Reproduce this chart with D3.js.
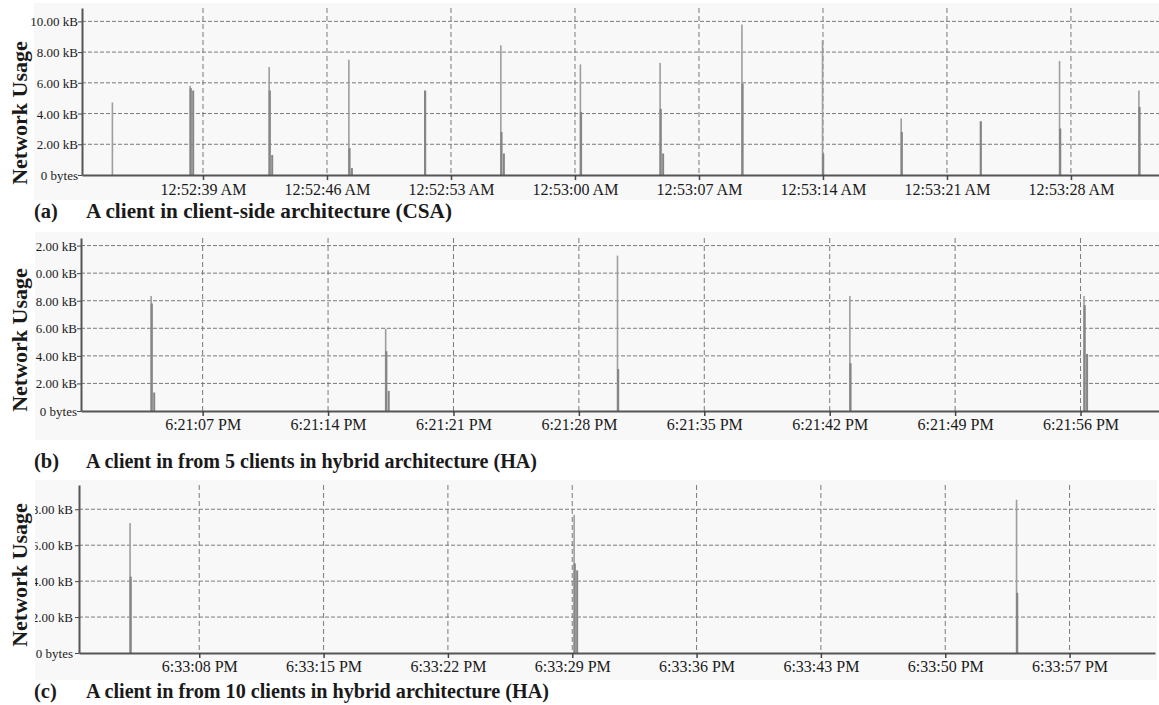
<!DOCTYPE html>
<html>
<head>
<meta charset="utf-8">
<script src="https://cdn.jsdelivr.net/npm/d3@7/dist/d3.min.js"></script>
<style>
  html, body { margin: 0; padding: 0; background: #ffffff; }
  svg { display: block; }
  text { font-family: "Liberation Serif", "Times New Roman", serif; fill: #1a1a1a; }
</style>
</head>
<body>
<svg id="chart" width="1159" height="705"></svg>
<script>
// ---------------- DATA ----------------
// Panel (a): seconds past 12:52:00 AM
const aTickLabels = ["12:52:39 AM","12:52:46 AM","12:52:53 AM","12:53:00 AM","12:53:07 AM","12:53:14 AM","12:53:21 AM","12:53:28 AM"];
const aYTicks = [0, 2, 4, 6, 8, 10];
const aYLabels = ["0 bytes","2.00 kB","4.00 kB","6.00 kB","8.00 kB","10.00 kB"];
const aTimes = [33.88, 38.27, 42.73, 47.23, 51.50, 55.81, 60.30, 64.80, 69.42, 73.97, 78.41, 82.87, 87.35, 91.83];
const aPeak  = [4.72, 5.80, 7.03, 7.50, null, 8.44, 7.20, 7.30, 9.80, 8.77, 3.68, null, 7.42, 5.50];
const aMain  = [null, 5.65, 5.50, 1.75, 5.50, 2.80, 4.10, 4.30, 5.95, 1.40, 2.80, 3.50, 3.03, 4.43];
const aTail  = [null, 5.50, 1.30, 0.45, null, 1.40, null, 1.40, null, null, null, null, null, null];

// Panel (b): seconds past 6:21:00 PM
const bTickLabels = ["6:21:07 PM","6:21:14 PM","6:21:21 PM","6:21:28 PM","6:21:35 PM","6:21:42 PM","6:21:49 PM","6:21:56 PM"];
const bYTicks = [0, 2, 4, 6, 8, 10, 12];
const bYLabels = ["0 bytes","2.00 kB","4.00 kB","6.00 kB","8.00 kB","0.00 kB","2.00 kB"];
const bTimes = [4.12, 17.21, 30.15, 43.12, 56.19];
const bPeak  = [8.34, 5.97, 11.27, 8.34, 8.34];
const bMain  = [7.80, 4.34, 3.04, 3.46, 7.68];
const bTail  = [1.34, 1.46, null, null, 4.14];

// Panel (c): seconds past 6:33:00 PM
const cTickLabels = ["6:33:08 PM","6:33:15 PM","6:33:22 PM","6:33:29 PM","6:33:36 PM","6:33:43 PM","6:33:50 PM","6:33:57 PM"];
const cYTicks = [0, 2, 4, 6, 8];
const cYLabels = ["0 bytes","2.00 kB","4.00 kB","6.00 kB","8.00 kB"];
const cTimes = [4.10, 29.10, 54.01];
const cPeak  = [7.23, 7.69, 8.53];
const cMain  = [4.25, 4.99, 3.35];
const cTail  = [null, 4.60, null];

const captionTags = ["(a)", "(b)", "(c)"];
const captionTexts = [
  "A client in client-side architecture (CSA)",
  "A client in from 5 clients in hybrid architecture (HA)",
  "A client in from 10 clients in hybrid architecture (HA)"
];
const yTitle = "Network Usage";

// ---------------- LAYOUT ----------------
const panels = [
  { ticks: aTickLabels, yTicks: aYTicks, yLabels: aYLabels, times: aTimes, peak: aPeak, main: aMain, tail: aTail,
    xDom: [32.17, 92.97], yMax: 10.87, clip: false,
    left: 82, right: 1159, top: 8, bottom: 175,
    bg: [34, 3, 1159, 200], labelRight: 78, xLabelY: 195, capY: 218, capLen: 366, titleY: 113 },
  { ticks: bTickLabels, yTicks: bYTicks, yLabels: bYLabels, times: bTimes, peak: bPeak, main: bMain, tail: bTail,
    xDom: [0.21, 60.38], yMax: 12.55, clip: true,
    left: 81, right: 1159, top: 238, bottom: 411,
    bg: [35, 232, 1159, 440], labelRight: 77, xLabelY: 430, capY: 468, capLen: 451, titleY: 340 },
  { ticks: cTickLabels, yTicks: cYTicks, yLabels: cYLabels, times: cTimes, peak: cPeak, main: cMain, tail: cTail,
    xDom: [1.23, 61.81], yMax: 9.35, clip: true,
    left: 79, right: 1155, top: 485, bottom: 653,
    bg: [35, 480, 1157, 680], labelRight: 73, xLabelY: 672, capY: 698, capLen: 463, titleY: 575 }
];

const svg = d3.select("#chart");
svg.append("defs").append("clipPath").attr("id", "leftclip")
  .attr("clipPathUnits", "userSpaceOnUse")
  .append("rect").attr("x", 35).attr("y", 0).attr("width", 1124).attr("height", 705);

function parseTick(label, baseLabel) {
  const m = label.match(/(\d+):(\d+):(\d+)/);
  const b = baseLabel.match(/(\d+):(\d+):(\d+)/);
  return (+m[2] - +b[2]) * 60 + (+m[3]);
}

panels.forEach((p, i) => {
  const g = svg.append("g");
  // background
  g.append("rect")
    .attr("x", p.bg[0]).attr("y", p.bg[1])
    .attr("width", p.bg[2] - p.bg[0]).attr("height", p.bg[3] - p.bg[1])
    .attr("fill", "#f8f8f8");

  const x = d3.scaleLinear().domain(p.xDom).range([p.left, p.right]);
  const y = d3.scaleLinear().domain([0, p.yMax]).range([p.bottom, p.top]);

  // horizontal grid
  g.selectAll(".hg").data(p.yTicks.filter(v => v > 0)).join("line")
    .attr("x1", p.left).attr("x2", p.right)
    .attr("y1", d => y(d)).attr("y2", d => y(d))
    .attr("stroke", "#7a7a7a").attr("stroke-width", 1).attr("stroke-dasharray", "4,2");

  // vertical grid
  const tickVals = p.ticks.map(t => parseTick(t, p.ticks[0]));
  g.selectAll(".vg").data(tickVals).join("line")
    .attr("x1", d => x(d)).attr("x2", d => x(d))
    .attr("y1", p.top).attr("y2", p.bottom)
    .attr("stroke", "#7a7a7a").attr("stroke-width", 1).attr("stroke-dasharray", "5,3");

  // spikes
  const idx = d3.range(p.times.length);
  const bars = g.append("g");
  bars.selectAll(".pk").data(idx.filter(k => p.peak[k] != null)).join("rect")
    .attr("x", k => x(p.times[k]) - 0.7).attr("width", 1.6)
    .attr("y", k => y(p.peak[k])).attr("height", k => y(0) - y(p.peak[k]))
    .attr("fill", "#9e9e9e");
  bars.selectAll(".mn").data(idx.filter(k => p.main[k] != null)).join("rect")
    .attr("x", k => x(p.times[k]) - 0.4).attr("width", 2.2)
    .attr("y", k => y(p.main[k])).attr("height", k => y(0) - y(p.main[k]))
    .attr("fill", "#858585");
  bars.selectAll(".tl").data(idx.filter(k => p.tail[k] != null)).join("rect")
    .attr("x", k => x(p.times[k] + 0.12)).attr("width", 2)
    .attr("y", k => y(p.tail[k])).attr("height", k => y(0) - y(p.tail[k]))
    .attr("fill", "#858585");

  // x axis
  const xAxis = d3.axisBottom(x).tickValues(tickVals).tickFormat((d, j) => p.ticks[j]).tickSize(5).tickSizeOuter(0);
  const xg = g.append("g").attr("transform", `translate(0,${p.bottom})`).call(xAxis);
  xg.select(".domain").attr("stroke", "#555").attr("stroke-width", 2);
  xg.selectAll(".tick line").attr("stroke", "#444").attr("stroke-width", 1.5);
  xg.selectAll(".tick text").attr("font-size", 16).attr("font-family", "Liberation Serif")
    .attr("fill", "#1a1a1a").attr("y", p.xLabelY - p.bottom).attr("dy", null);

  // y axis (wrapped in an untransformed group so the clip is in page coordinates)
  const yWrap = g.append("g");
  if (p.clip) yWrap.attr("clip-path", "url(#leftclip)");
  const yAxis = d3.axisLeft(y).tickValues(p.yTicks).tickFormat((d, j) => p.yLabels[j]).tickSize(4).tickSizeOuter(0);
  const yg = yWrap.append("g").attr("transform", `translate(${p.left},0)`).call(yAxis);
  yg.select(".domain").attr("stroke", "#555").attr("stroke-width", 2);
  yg.selectAll(".tick line").attr("stroke", "#444");
  yg.selectAll(".tick text").attr("font-size", 13).attr("font-family", "Liberation Serif")
    .attr("fill", "#1a1a1a").attr("x", p.labelRight - p.left).attr("dy", "0.35em");

  // y title
  svg.append("text")
    .attr("transform", `translate(27,${p.titleY}) rotate(-90)`)
    .attr("text-anchor", "middle")
    .attr("font-size", 22).attr("font-weight", "bold")
    .text(yTitle);

  // caption
  svg.append("text").attr("x", 34).attr("y", p.capY)
    .attr("font-size", 20.5).attr("font-weight", "bold").text(captionTags[i]);
  svg.append("text").attr("x", 86).attr("y", p.capY)
    .attr("font-size", 20.5).attr("font-weight", "bold")
    .attr("textLength", p.capLen).attr("lengthAdjust", "spacingAndGlyphs")
    .text(captionTexts[i]);
});
</script>
</body>
</html>
